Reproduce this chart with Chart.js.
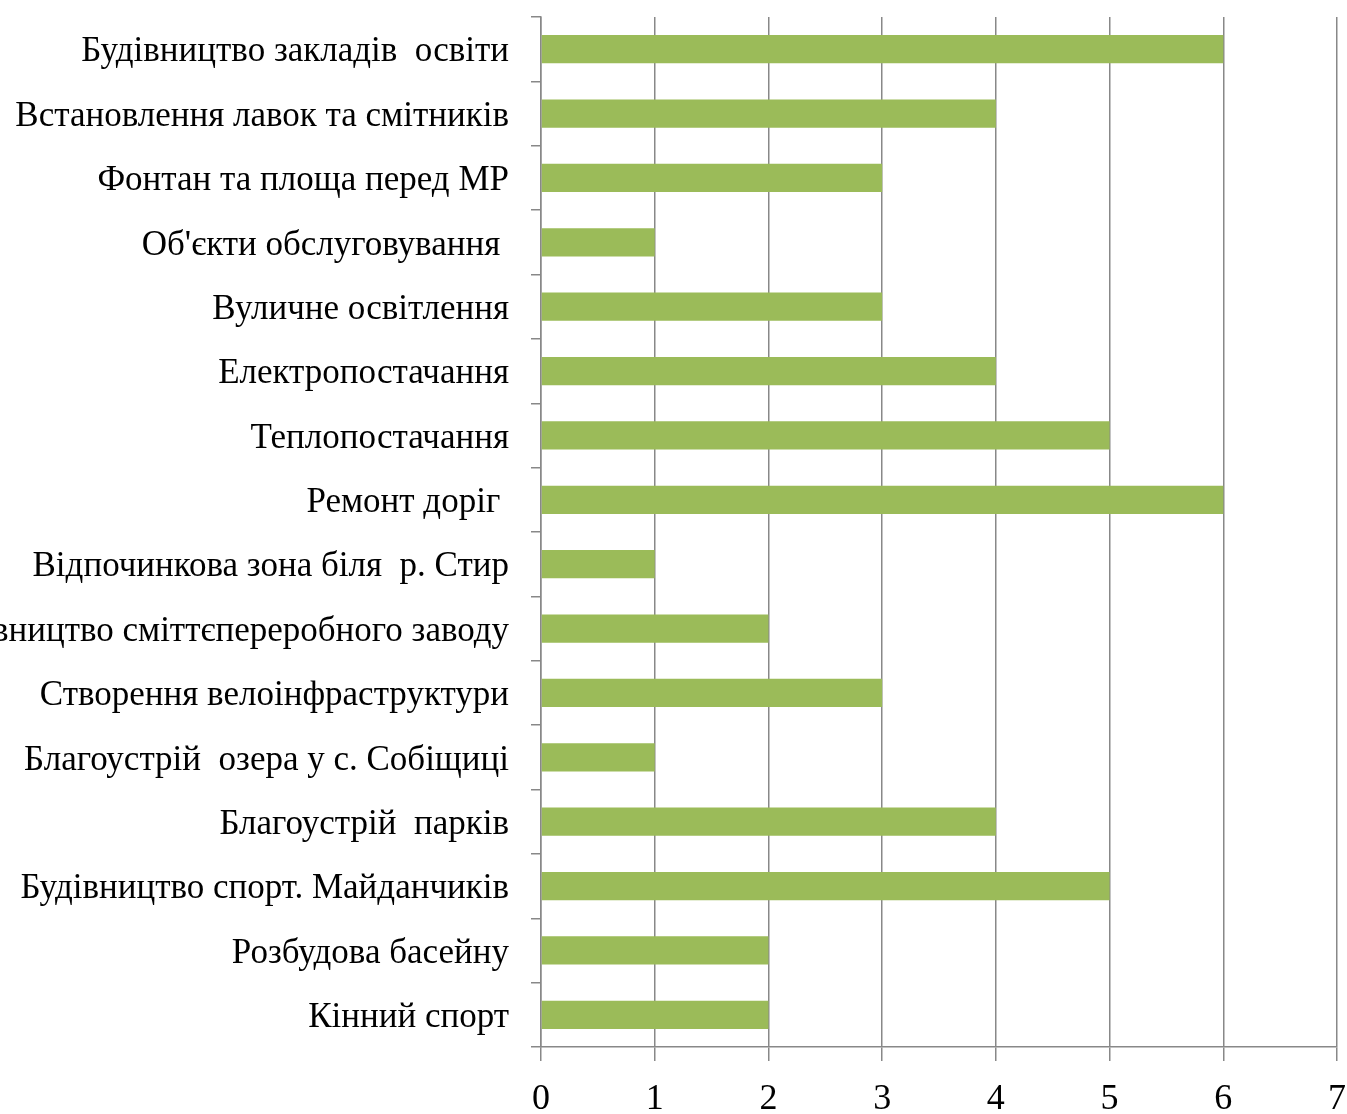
<!DOCTYPE html>
<html>
<head>
<meta charset="utf-8">
<script src="https://cdn.jsdelivr.net/npm/chart.js@4.4.0/dist/chart.umd.min.js"></script>
<style>
  html, body { margin: 0; padding: 0; background: #fff; }
  #wrap { width: 1347px; height: 1114px; position: relative; }
</style>
</head>
<body>
<div id="wrap"><canvas id="grafico"></canvas></div>
<script>
// Dati per il grafico
const categories = [
    'Будівництво закладів  освіти',
    'Встановлення лавок та смітників',
    'Фонтан та площа перед МР',
    "Об'єкти обслуговування ",
    'Вуличне освітлення',
    'Електропостачання',
    'Теплопостачання',
    'Ремонт доріг ',
    'Відпочинкова зона біля  р. Стир',
    'Будівництво сміттєпереробного заводу',
    'Створення велоінфраструктури',
    'Благоустрій  озера у с. Собіщиці',
    'Благоустрій  парків',
    'Будівництво спорт. Майданчиків',
    'Розбудова басейну',
    'Кінний спорт'
];
const votes = [6, 4, 3, 1, 3, 4, 5, 6, 1, 2, 3, 1, 4, 5, 2, 2];
const xTicks = [0, 1, 2, 3, 4, 5, 6, 7];

const gridColor = '#888888';
const fontFamily = '"Liberation Serif", "Times New Roman", serif';

const ctx = document.getElementById('grafico').getContext('2d');
const myChart = new Chart(ctx, {
    type: 'bar',
    data: {
        labels: categories,
        datasets: [{
            data: votes,
            backgroundColor: '#9BBB59',
            borderWidth: 0,
            categoryPercentage: 1,
            barPercentage: 0.44
        }]
    },
    options: {
        indexAxis: 'y',
        responsive: true,
        maintainAspectRatio: false,
        animation: false,
        layout: { padding: { top: 17, right: 10, left: 0, bottom: 0 } },
        plugins: {
            legend: { display: false },
            tooltip: { enabled: false }
        },
        scales: {
            x: {
                min: 0,
                max: 7,
                afterBuildTicks: (scale) => {
                    scale.ticks = xTicks.map(v => ({ value: v }));
                },
                afterFit: (scale) => {
                    scale.height = 67;
                    scale.paddingLeft = 0;
                    scale.paddingRight = 0;
                },
                grid: {
                    color: gridColor,
                    lineWidth: 1.5,
                    drawTicks: true,
                    tickLength: 14
                },
                border: { color: gridColor, width: 1.5 },
                ticks: {
                    color: '#000',
                    padding: 17,
                    font: { family: fontFamily, size: 36 }
                }
            },
            y: {
                afterFit: (scale) => {
                    scale.width = 541;
                    scale.paddingTop = 0;
                    scale.paddingBottom = 0;
                },
                grid: {
                    drawOnChartArea: false,
                    drawTicks: true,
                    tickLength: 10,
                    color: gridColor,
                    lineWidth: 1.5,
                    offset: true
                },
                border: { color: gridColor, width: 1.5 },
                ticks: {
                    color: '#000',
                    padding: 22,
                    labelOffset: 3,
                    autoSkip: false,
                    font: { family: fontFamily, size: 35 }
                }
            }
        }
    }
});
</script>
</body>
</html>
